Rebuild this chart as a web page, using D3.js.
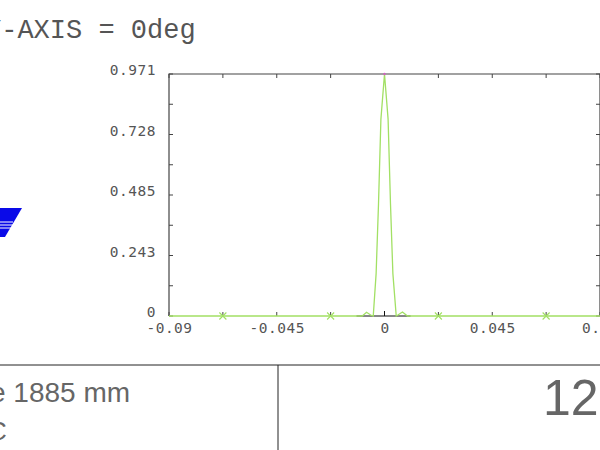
<!DOCTYPE html>
<html><head><meta charset="utf-8">
<script src="https://cdn.jsdelivr.net/npm/d3@7"></script>
<style>html,body{margin:0;padding:0;background:#fff;overflow:hidden}svg{display:block}</style>
</head><body>
<svg id="c" width="600" height="450"></svg>
<script>
// ---- data ----
const xPos = [-0.09, -0.0675, -0.045, -0.0225, -0.0093, -0.0075, -0.0058, -0.0047, -0.0035, -0.0025, -0.0015, 0,
              0.0015, 0.0025, 0.0035, 0.0049, 0.0056, 0.0075, 0.0096, 0.0225, 0.045, 0.0675, 0.09];
const yVal = [0, 0, 0, 0, 0, 0.015, 0.004, 0, 0.17, 0.45, 0.79, 0.971,
              0.79, 0.45, 0.17, 0, 0.004, 0.016, 0, 0, 0, 0, 0];
const markerX = [-0.0675, -0.0225, 0.0225, 0.0675];
const blackSegX = [-0.0117, 0.0109];
const xTickLabels = ["-0.09", "-0.045", "0", "0.045", "0.09"];
const xTickVals = [-0.09, -0.045, 0, 0.045, 0.09];
const yTickLabels = ["0", "0.243", "0.485", "0.728", "0.971"];
const yTickVals = [0, 0.24275, 0.4855, 0.72825, 0.971];
const titleText = "Y-AXIS = 0deg";
const footLeft1 = "e 1885 mm";
const footLeft2 = "C";
const footRight = "12";

// ---- layout ----
const svg = d3.select("#c");
const L = 169, R = 600, T = 74, B = 316;
const x = d3.scaleLinear().domain([-0.09, 0.09]).range([L, R]);
const y = d3.scaleLinear().domain([0, 0.971]).range([B, T]);
const green = "#a2e064", frame = "#444";

// title
svg.append("text").attr("x", -15).attr("y", 38).text(titleText)
  .attr("font-family", "Liberation Mono, monospace").attr("font-size", 27).attr("fill", "#555");

// logo
svg.append("polygon").attr("points", "0,208 22,208 5,237 0,237").attr("fill", "#0a0ae8");
[222, 225, 228].forEach(v => svg.append("line").attr("x1", 0).attr("x2", 13).attr("y1", v).attr("y2", v)
  .attr("stroke", "#fff").attr("stroke-width", 1));

// frame
const g = svg.append("g");
g.append("path").attr("d", `M${L},${B}V${T}H${R}V${B}`).attr("fill", "none").attr("stroke", frame).attr("stroke-width", 1.2);

// minor ticks
const xt = d3.range(-0.09, 0.0901, 0.0225);
const yt = d3.range(0, 9).map(i => i * 0.971 / 8);
xt.forEach(v => {
  g.append("line").attr("x1", x(v)).attr("x2", x(v)).attr("y1", T).attr("y2", T + 4).attr("stroke", frame);
  g.append("line").attr("x1", x(v)).attr("x2", x(v)).attr("y1", B).attr("y2", B - 4).attr("stroke", frame);
});
yt.forEach(v => {
  g.append("line").attr("x1", L).attr("x2", L + 4).attr("y1", y(v)).attr("y2", y(v)).attr("stroke", frame);
  g.append("line").attr("x1", R).attr("x2", R - 4).attr("y1", y(v)).attr("y2", y(v)).attr("stroke", frame);
});

// axes labels via d3 axes
const xAxis = d3.axisBottom(x).tickValues(xTickVals).tickSize(0).tickFormat((d, i) => xTickLabels[i]);
const xa = svg.append("g").attr("transform", `translate(0,${B + 5})`).call(xAxis);
xa.select(".domain").remove();
xa.selectAll("text").attr("font-family", "DejaVu Sans Mono, monospace").attr("font-size", 14.5).attr("fill", "#555").attr("letter-spacing", 0.5).attr("dy", "0.6em");
const yAxis = d3.axisLeft(y).tickValues(yTickVals).tickSize(0).tickFormat((d, i) => yTickLabels[i]);
const ya = svg.append("g").attr("transform", `translate(${L - 10},0)`).call(yAxis);
ya.select(".domain").remove();
ya.selectAll("text").attr("font-family", "DejaVu Sans Mono, monospace").attr("font-size", 14.5).attr("fill", "#555").attr("letter-spacing", 0.5).attr("dy", "0.05em");

// black segment
svg.append("line").attr("x1", x(blackSegX[0])).attr("x2", x(blackSegX[1])).attr("y1", y(0)).attr("y2", y(0))
  .attr("stroke", "#111").attr("stroke-width", 1.2);
svg.append("line").attr("x1", x(0)).attr("x2", x(0)).attr("y1", y(0) - 5).attr("y2", y(0)).attr("stroke", "#111");

// curve
const pts = xPos.map((v, i) => [v, yVal[i]]);
svg.append("path").datum(pts).attr("d", d3.line().x(d => x(d[0])).y(d => y(d[1])))
  .attr("fill", "none").attr("stroke", green).attr("stroke-width", 1.3);
markerX.forEach(v => {
  const cx = x(v), cy = y(0);
  svg.append("path").attr("d", `M${cx-3.5},${cy-3.5}L${cx+3.5},${cy+3.5}M${cx-3.5},${cy+3.5}L${cx+3.5},${cy-3.5}`)
    .attr("stroke", green).attr("stroke-width", 1.1);
});
svg.append("circle").attr("cx", x(0)).attr("cy", y(0.971)).attr("r", 1.2).attr("fill", "#d060c0");

// footer
svg.append("line").attr("x1", 0).attr("x2", 600).attr("y1", 365).attr("y2", 365).attr("stroke", "#222").attr("stroke-width", 1);
svg.append("line").attr("x1", 278).attr("x2", 278).attr("y1", 365).attr("y2", 450).attr("stroke", "#222").attr("stroke-width", 1);
svg.append("text").attr("x", -10).attr("y", 402).text(footLeft1)
  .attr("font-family", "Liberation Sans, Arial, sans-serif").attr("font-size", 28).attr("fill", "#666");
svg.append("text").attr("x", -12).attr("y", 440).text(footLeft2)
  .attr("font-family", "Liberation Sans, Arial, sans-serif").attr("font-size", 26).attr("fill", "#666");
svg.append("text").attr("x", 543).attr("y", 415).text(footRight)
  .attr("font-family", "Liberation Sans, Arial, sans-serif").attr("font-size", 50).attr("fill", "#666");
</script>
</body></html>
